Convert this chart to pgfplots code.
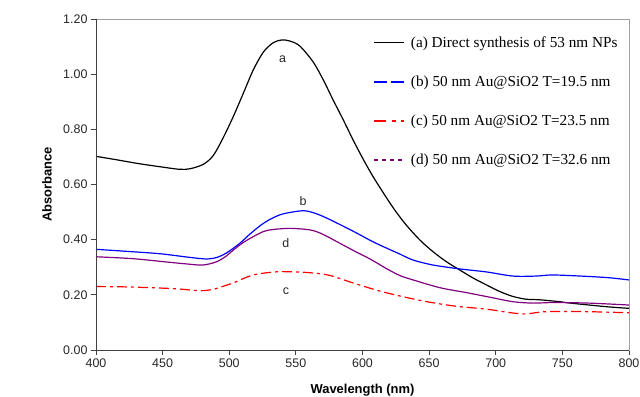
\documentclass[border=0pt]{standalone}
\usepackage{fontspec}
\setmainfont{Liberation Serif}
\setsansfont{Liberation Sans}
\usepackage{pgfplots}
\pgfplotsset{compat=1.18}
\definecolor{cpurple}{RGB}{128,0,128}
\definecolor{axdark}{RGB}{64,64,64}
\definecolor{axlight}{RGB}{160,160,160}
\begin{document}
\begin{tikzpicture}
\begin{axis}[
  at={(0,0)}, anchor=south west,
  scale only axis, width=533bp, height=331bp,
  xmin=400, xmax=800, ymin=0, ymax=1.2,
  xtick={400,450,...,800}, ytick={0,0.2,...,1.2},
  tick align=outside, xtick pos=bottom, ytick pos=left,
  major tick length=5bp, tick style={axdark, line width=0.8bp},
  axis line style={axlight, line width=0.8bp},
  /pgf/number format/assume math mode=true,
  ticklabel style={font=\sffamily\fontsize{12.5}{14}\selectfont, text=black!85},
  yticklabel style={/pgf/number format/.cd, fixed, fixed zerofill, precision=2},
  xticklabel style={/pgf/number format/.cd, fixed, precision=0},
  xlabel={Wavelength (nm)}, ylabel={Absorbance},
  label style={font=\sffamily\bfseries\fontsize{13}{15}\selectfont},
  xlabel style={at={(rel axis cs:0.5,0)}, anchor=center, yshift=-40bp},
  ylabel style={at={(rel axis cs:0,0.5)}, anchor=center, yshift=49bp},
  legend style={draw=none, fill=none, at={(rel axis cs:0.52,0.751)}, anchor=west,
    font=\fontsize{15.3}{17}\selectfont, row sep=23bp, inner sep=0pt,
    /tikz/every odd column/.append style={column sep=4bp}},
  legend cell align=left,
  legend image code/.code={\draw (0bp,0bp) -- (30bp,0bp);},
  every axis plot/.append style={line width=1.2bp},
]
% legend entries
\addlegendimage{black, line width=1.2bp}
\addlegendentry{(a) Direct synthesis of 53 nm NPs}
\addlegendimage{blue, line width=1.4bp, dash pattern=on 12.5bp off 4.5bp}
\addlegendentry{(b) 50 nm Au@SiO2 T=19.5 nm}
\addlegendimage{red, line width=1.4bp, dash pattern=on 12bp off 6bp on 3.5bp off 5bp}
\addlegendentry{(c) 50 nm Au@SiO2 T=23.5 nm}
\addlegendimage{cpurple, line width=1.6bp, dash pattern=on 3.8bp off 4.2bp}
\addlegendentry{(d) 50 nm Au@SiO2 T=32.6 nm}
% (a)
\addplot[black, smooth, tension=0.5, forget plot] coordinates {
(400,0.702) (415,0.690) (433,0.675) (453,0.661) (463,0.655) (470.5,0.657) (480.5,0.673)
(488,0.705) (495.5,0.770) (503,0.846) (510.5,0.930) (518,1.015) (525.6,1.080) (533,1.114)
(539.4,1.124) (545.6,1.120) (553,1.102) (563,1.044) (570.6,0.979) (578,0.906) (585.6,0.834)
(593,0.761) (600.6,0.691) (608,0.628) (618,0.552) (625,0.502) (633,0.452) (643,0.399)
(653,0.356) (663,0.320) (673,0.290) (683,0.261) (693,0.236) (703,0.212) (713,0.194)
(723,0.184) (733,0.182) (748,0.175) (758,0.169) (783,0.157) (800,0.151)};
% (b)
\addplot[blue, smooth, tension=0.5, forget plot] coordinates {
(400,0.365) (425,0.357) (448,0.349) (470,0.336) (483,0.330) (491,0.336) (498,0.352)
(508,0.387) (515,0.418) (523,0.450) (530,0.472) (538,0.490) (546,0.499) (556,0.505)
(563,0.498) (571,0.483) (583,0.455) (596,0.423) (608,0.392) (621,0.363) (628,0.348)
(638,0.326) (653,0.308) (673,0.294) (693,0.283) (713,0.268) (730,0.268) (743,0.272)
(768,0.267) (785,0.262) (800,0.254)};
% (c)
\addplot[red, dash pattern=on 10bp off 4bp on 3bp off 4bp, smooth, tension=0.5, forget plot] coordinates {
(400,0.230) (420,0.229) (440,0.226) (460,0.222) (478,0.215) (488,0.220) (496,0.232)
(503,0.243) (510,0.258) (518,0.272) (528,0.280) (538,0.284) (550,0.283) (561,0.280)
(575,0.271) (593,0.243) (615,0.211) (643,0.180) (668,0.160) (693,0.148) (713,0.134)
(723,0.131) (738,0.139) (768,0.139) (800,0.135)};
% (d)
\addplot[cpurple, smooth, tension=0.5, forget plot] coordinates {
(400,0.338) (428,0.331) (453,0.319) (468,0.312) (480,0.308) (490,0.319) (497,0.338)
(503,0.362) (510,0.388) (518,0.411) (526,0.430) (533,0.437) (546,0.441) (561,0.435)
(570,0.420) (583,0.387) (595,0.356) (606,0.329) (618,0.295) (628,0.270) (638,0.254)
(658,0.226) (678,0.208) (696,0.191) (713,0.175) (728,0.170) (743,0.172) (770,0.170)
(800,0.163)};
% curve labels
\node[font=\sffamily\fontsize{12.5}{14}\selectfont, text=black!85] at (axis cs:540,1.055) {a};
\node[font=\sffamily\fontsize{12.5}{14}\selectfont, text=black!85] at (axis cs:555.5,0.541) {b};
\node[font=\sffamily\fontsize{12.5}{14}\selectfont, text=black!85] at (axis cs:542.5,0.389) {d};
\node[font=\sffamily\fontsize{12.5}{14}\selectfont, text=black!85] at (axis cs:542.5,0.214) {c};
% darker left and bottom axis lines
\draw[axdark, line width=0.9bp] (rel axis cs:0,1) -- (rel axis cs:0,0) -- (rel axis cs:1,0);
\end{axis}
\pgfresetboundingbox
\path[use as bounding box] (-96bp,-47bp) rectangle (544bp,350bp);
\end{tikzpicture}
\end{document}
